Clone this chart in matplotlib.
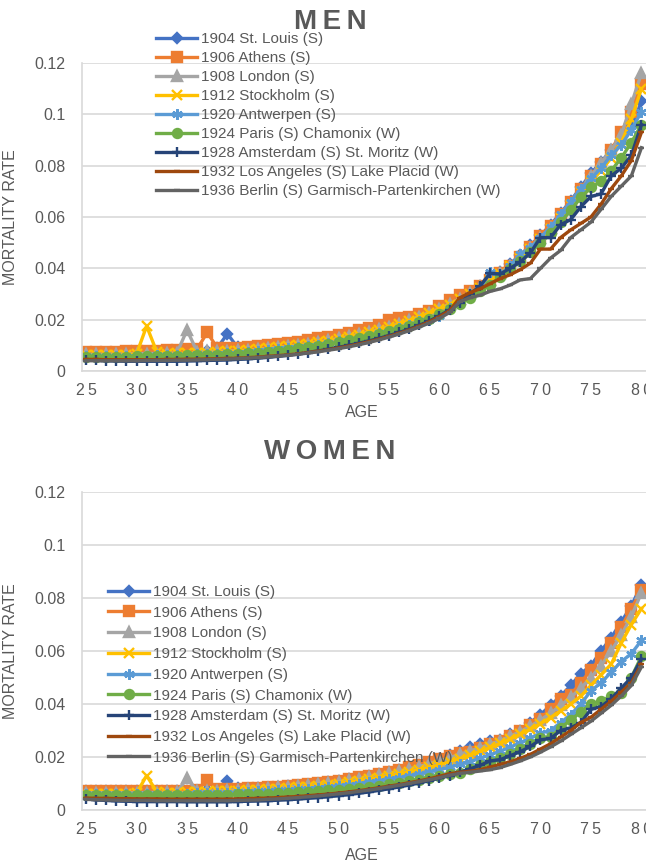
import matplotlib
matplotlib.use("Agg")
import matplotlib.pyplot as plt

# ages shown on the category axis
ages = list(range(25, 81))

series_names = [
    "1904 St. Louis (S)",
    "1906 Athens (S)",
    "1908 London (S)",
    "1912 Stockholm (S)",
    "1920 Antwerpen (S)",
    "1924 Paris (S) Chamonix (W)",
    "1928 Amsterdam (S) St. Moritz (W)",
    "1932 Los Angeles (S) Lake Placid (W)",
    "1936 Berlin (S) Garmisch-Partenkirchen (W)",
]

# mortality rates, in units of 1/10000, ages 25..80
men_1904 = [70, 68, 70, 72, 70, 71, 72, 72, 73, 74,
            75, 76, 78, 90, 145, 92, 88, 90, 92, 96,
            100, 105, 110, 116, 122, 129, 136, 144, 153, 163,
            174, 186, 199, 213, 228, 245, 263, 283, 305, 330,
            357, 386, 418, 452, 489, 528, 570, 615, 664, 716,
            770, 815, 860, 900, 950, 1050]
men_1906 = [75, 74, 74, 75, 76, 77, 78, 79, 80, 82,
            84, 86, 150, 90, 88, 90, 93, 96, 100, 104,
            108, 113, 120, 127, 134, 141, 149, 158, 167, 178,
            200, 205, 212, 222, 235, 255, 275, 298, 312, 330,
            355, 380, 410, 445, 485, 525, 565, 610, 660, 710,
            760, 805, 860, 930, 1010, 1120]
men_1908 = [65, 65, 66, 66, 67, 67, 68, 68, 69, 70,
            160, 75, 76, 77, 78, 80, 82, 85, 88, 92,
            97, 102, 107, 113, 120, 127, 135, 143, 152, 162,
            173, 185, 198, 212, 227, 243, 261, 281, 303, 327,
            353, 381, 411, 444, 480, 518, 559, 604, 652, 704,
            760, 810, 860, 920, 1040, 1160]
men_1912 = [62, 62, 63, 63, 64, 66, 175, 75, 68, 69,
            70, 71, 72, 74, 76, 78, 81, 84, 88, 92,
            96, 101, 106, 112, 118, 125, 133, 141, 150, 160,
            171, 183, 196, 210, 225, 241, 259, 279, 301, 325,
            350, 378, 408, 440, 475, 513, 554, 598, 645, 696,
            740, 780, 830, 890, 980, 1100]
men_1920 = [58, 58, 58, 59, 59, 60, 60, 61, 62, 63,
            64, 65, 66, 68, 70, 72, 74, 77, 80, 84,
            88, 92, 97, 102, 108, 115, 122, 130, 138, 147,
            157, 168, 180, 193, 200, 215, 245, 265, 290, 320,
            385, 375, 410, 455, 480, 520, 560, 610, 660, 710,
            750, 790, 840, 880, 940, 1010]
men_1924 = [55, 54, 55, 55, 56, 57, 57, 58, 59, 60,
            61, 62, 63, 64, 66, 68, 70, 72, 75, 79,
            83, 88, 93, 99, 105, 112, 119, 127, 135, 144,
            154, 165, 177, 190, 204, 222, 240, 262, 285, 310,
            337, 365, 396, 428, 462, 498, 537, 580, 626, 676,
            715, 740, 780, 830, 890, 960]
men_1928 = [42, 41, 40, 39, 38, 38, 38, 38, 38, 38,
            39, 40, 41, 42, 43, 45, 47, 50, 53, 57,
            61, 66, 72, 78, 85, 92, 100, 108, 117, 127,
            138, 150, 163, 178, 195, 215, 238, 265, 300, 330,
            380, 378, 400, 425, 460, 520, 520, 570, 590, 640,
            680, 690, 760, 790, 840, 960]
men_1932 = [45, 45, 44, 44, 44, 44, 44, 44, 45, 45,
            46, 46, 47, 48, 49, 50, 52, 54, 57, 60,
            63, 67, 72, 77, 83, 90, 97, 105, 114, 124,
            135, 147, 160, 175, 192, 212, 235, 285, 305, 320,
            340, 360, 375, 395, 420, 475, 475, 520, 550, 575,
            600, 650, 710, 760, 820, 930]
men_1936 = [40, 40, 40, 40, 40, 40, 41, 41, 41, 42,
            42, 43, 44, 45, 46, 48, 50, 52, 55, 58,
            61, 65, 70, 75, 81, 87, 94, 102, 111, 121,
            132, 144, 157, 171, 187, 205, 228, 270, 285, 295,
            310, 320, 335, 355, 360, 400, 440, 470, 520, 550,
            580, 630, 680, 720, 760, 870]

women_1904 = [72, 71, 70, 70, 70, 70, 70, 71, 71, 72,
              72, 73, 74, 76, 110, 82, 80, 82, 84, 86,
              89, 92, 96, 100, 105, 110, 116, 122, 129, 136,
              144, 152, 161, 171, 182, 194, 208, 222, 237, 250,
              260, 265, 285, 300, 330, 360, 395, 430, 470, 515,
              545, 600, 650, 710, 770, 850]
women_1906 = [70, 70, 70, 70, 70, 70, 71, 71, 72, 72,
              73, 74, 115, 78, 80, 81, 82, 83, 85, 88,
              91, 94, 98, 102, 106, 111, 117, 123, 129, 136,
              144, 152, 161, 171, 181, 192, 205, 215, 220, 235,
              250, 262, 278, 298, 320, 345, 380, 420, 435, 480,
              530, 575, 630, 690, 760, 830]
women_1908 = [65, 65, 65, 65, 65, 65, 66, 66, 67, 67,
              120, 70, 71, 73, 75, 77, 79, 81, 83, 86,
              88, 91, 94, 98, 102, 107, 112, 118, 124, 131,
              138, 146, 155, 164, 174, 185, 197, 210, 222, 235,
              248, 262, 278, 296, 316, 340, 365, 395, 425, 460,
              500, 545, 600, 660, 730, 820]
women_1912 = [62, 62, 62, 62, 62, 63, 130, 68, 66, 66,
              67, 68, 69, 70, 71, 72, 74, 76, 78, 80,
              82, 85, 88, 92, 96, 100, 105, 110, 116, 122,
              129, 136, 144, 152, 161, 171, 182, 194, 207, 221,
              236, 251, 268, 286, 305, 326, 349, 374, 400, 430,
              470, 510, 550, 630, 700, 760]
women_1920 = [60, 60, 60, 60, 60, 60, 60, 61, 61, 62,
              62, 63, 64, 65, 66, 67, 68, 70, 72, 74,
              76, 78, 81, 84, 87, 91, 95, 100, 105, 110,
              116, 122, 129, 136, 144, 152, 162, 172, 183, 195,
              208, 222, 237, 254, 272, 290, 300, 330, 360, 400,
              450, 480, 520, 560, 590, 640]
women_1924 = [55, 55, 55, 55, 55, 55, 55, 55, 55, 55,
              55, 56, 56, 57, 58, 59, 60, 61, 62, 64,
              65, 67, 69, 71, 74, 77, 80, 84, 88, 92,
              97, 102, 108, 114, 121, 128, 136, 140, 155, 168,
              182, 197, 213, 230, 250, 270, 275, 310, 340, 370,
              400, 410, 430, 440, 500, 580]
women_1928 = [42, 38, 36, 34, 33, 32, 32, 32, 32, 32,
              31, 31, 31, 31, 31, 32, 33, 34, 35, 37,
              39, 41, 44, 47, 50, 54, 58, 63, 68, 74,
              80, 87, 94, 102, 111, 120, 130, 142, 155, 168,
              185, 190, 205, 220, 240, 265, 270, 300, 310, 330,
              380, 390, 420, 460, 500, 570]
women_1932 = [45, 44, 44, 43, 43, 42, 42, 42, 41, 41,
              41, 41, 41, 41, 41, 42, 43, 44, 45, 47,
              49, 51, 54, 57, 60, 64, 68, 73, 78, 84,
              90, 96, 103, 110, 118, 127, 137, 142, 146, 152,
              162, 172, 182, 195, 210, 230, 250, 275, 300, 330,
              350, 380, 410, 445, 480, 550]
women_1936 = [40, 39, 38, 37, 36, 36, 36, 35, 35, 35,
              35, 35, 35, 35, 35, 36, 37, 38, 40, 42,
              44, 47, 50, 53, 57, 61, 65, 70, 75, 81,
              87, 93, 100, 107, 114, 122, 131, 138, 142, 147,
              152, 160, 172, 185, 200, 218, 238, 260, 285, 310,
              335, 365, 395, 430, 470, 540]

men = [men_1904, men_1906, men_1908, men_1912, men_1920,
       men_1924, men_1928, men_1932, men_1936]
women = [women_1904, women_1906, women_1908, women_1912, women_1920,
         women_1924, women_1928, women_1932, women_1936]

y_ticks = [0, 0.02, 0.04, 0.06, 0.08, 0.1, 0.12]
y_tick_labels = ["0", "0.02", "0.04", "0.06", "0.08", "0.1", "0.12"]
x_ticks = list(range(25, 81, 5))

# Excel office palette and markers
colors = ["#4472C4", "#ED7D31", "#A5A5A5", "#FFC000", "#5B9BD5",
          "#70AD47", "#264478", "#9E480E", "#636363"]
markers = ["D", "s", "^", "x", (6, 2, 0), "o", "+", "_", "_"]
msizes = [5.5, 6.5, 7, 7, 7.5, 6.5, 7.5, 4, 4]

txt = "#595959"
grid = "#d9d9d9"
plt.rcParams["font.family"] = ["Liberation Sans", "DejaVu Sans"]

W, H = 646, 865
fig = plt.figure(figsize=(W / 100, H / 100), dpi=100)


def make_panel(bottom_px, top_px, data, title, title_y, legend_xy, spacing, age_y):
    h = bottom_px - top_px
    ax = fig.add_axes([82 / W, 1 - bottom_px / H, 1 - 82 / W, h / H])
    for vals, name, c, m, ms in zip(data, series_names, colors, markers, msizes):
        ax.plot(ages, [v / 10000 for v in vals], color=c, lw=2.4, marker=m,
                markersize=ms, markeredgewidth=1.7, label=name)
    ax.set_xlim(24.6, 80.45)
    ax.set_ylim(0, 0.12)
    ax.set_yticks(y_ticks)
    ax.set_yticklabels(y_tick_labels)
    ax.set_xticks(x_ticks)
    ax.set_xticklabels(["\u2009".join(str(a)) for a in x_ticks])
    ax.tick_params(length=0, colors=txt, labelsize=11.5)
    ax.tick_params(axis="y", pad=12)
    ax.tick_params(axis="x", pad=9)
    ax.grid(axis="y", color=grid, lw=1.2)
    ax.set_axisbelow(True)
    for s in ["top", "right"]:
        ax.spines[s].set_visible(False)
    for s in ["left", "bottom"]:
        ax.spines[s].set_color(grid)
        ax.spines[s].set_linewidth(1.2)
    ax.set_ylabel("MORTALITY RATE", color=txt, fontsize=11.5)
    ax.yaxis.set_label_coords(-64 / (W - 82), 0.5)
    ax.set_xlabel("AGE", color=txt, fontsize=11.5, va="center")
    ax.xaxis.set_label_coords((362 - 82) / (W - 82), (bottom_px - age_y) / h)
    fig.text(330 / W, 1 - title_y / H, title, ha="center", va="center",
             fontsize=20, fontweight="bold", color=txt)
    leg = ax.legend(loc="upper left", bbox_to_anchor=(legend_xy[0] / W, 1 - legend_xy[1] / H),
                    bbox_transform=fig.transFigure, frameon=False, fontsize=11,
                    handlelength=2.7, handletextpad=0.25, labelspacing=spacing,
                    borderpad=0, borderaxespad=0)
    for t in leg.get_texts():
        t.set_color(txt)
    return ax


make_panel(371, 63, men, "M\u2009E\u2009N", 22, (156, 32), 0.33, 413)
make_panel(810, 492, women, "W\u2009O\u2009M\u2009E\u2009N", 452, (108, 585), 0.44, 855)

fig.savefig("out.png", dpi=100)
